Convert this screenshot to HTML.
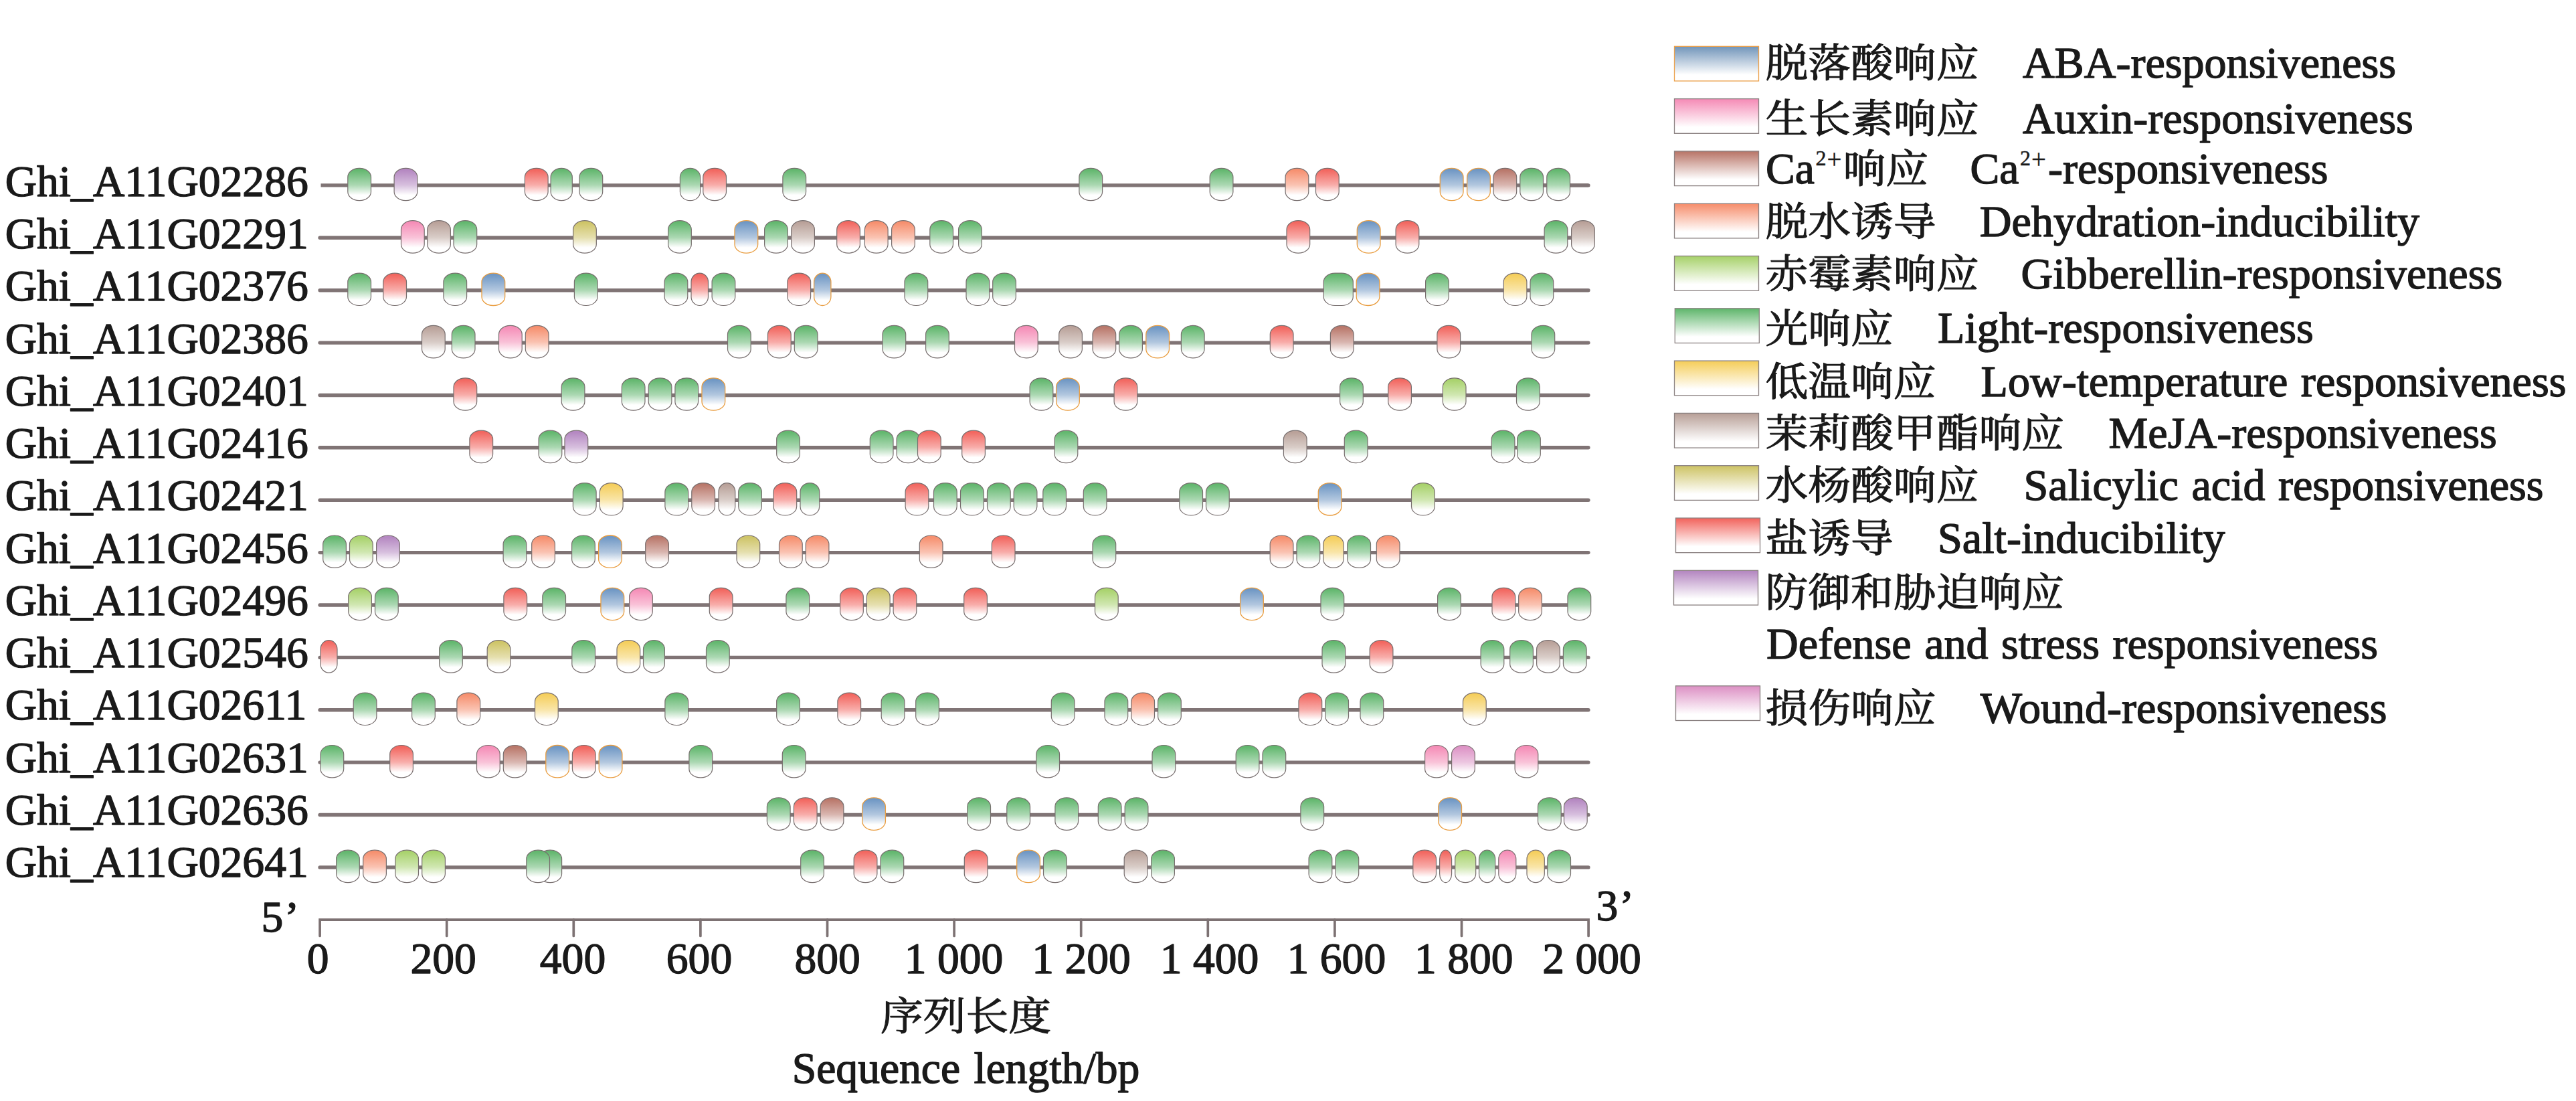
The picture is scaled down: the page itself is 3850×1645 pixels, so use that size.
<!DOCTYPE html>
<html lang="zh"><head><meta charset="utf-8"><title>cis-acting elements</title>
<style>html,body{margin:0;padding:0;background:#fff}body{width:3850px;height:1645px;overflow:hidden}svg{display:block}text{font-family:"Liberation Serif","Noto Serif CJK SC",serif;font-size:65.6px;fill:#1a1a1a;stroke:#1a1a1a;stroke-width:1.4px;stroke-linejoin:round}.e{font-size:66.1px;word-spacing:3px}.c{font-size:63.8px;stroke-width:1.3px}</style></head><body>
<svg width="3850" height="1645" viewBox="0 0 3850 1645">
<defs>
<linearGradient id="gL" x1="0" y1="0" x2="0" y2="1"><stop offset="0.05" stop-color="#62b76e"/><stop offset="0.52" stop-color="#abd8b2"/><stop offset="0.83" stop-color="#fff"/></linearGradient>
<linearGradient id="gA" x1="0" y1="0" x2="0" y2="1"><stop offset="0.05" stop-color="#6f97c4"/><stop offset="0.52" stop-color="#b2c7df"/><stop offset="0.83" stop-color="#fff"/></linearGradient>
<linearGradient id="gX" x1="0" y1="0" x2="0" y2="1"><stop offset="0.05" stop-color="#f58db7"/><stop offset="0.52" stop-color="#f9c2d8"/><stop offset="0.83" stop-color="#fff"/></linearGradient>
<linearGradient id="gC" x1="0" y1="0" x2="0" y2="1"><stop offset="0.05" stop-color="#b9776a"/><stop offset="0.52" stop-color="#d9b6b0"/><stop offset="0.83" stop-color="#fff"/></linearGradient>
<linearGradient id="gD" x1="0" y1="0" x2="0" y2="1"><stop offset="0.05" stop-color="#f68f6e"/><stop offset="0.52" stop-color="#fac3b2"/><stop offset="0.83" stop-color="#fff"/></linearGradient>
<linearGradient id="gG" x1="0" y1="0" x2="0" y2="1"><stop offset="0.05" stop-color="#a8d26c"/><stop offset="0.52" stop-color="#d0e7b1"/><stop offset="0.83" stop-color="#fff"/></linearGradient>
<linearGradient id="gT" x1="0" y1="0" x2="0" y2="1"><stop offset="0.05" stop-color="#f5ce5c"/><stop offset="0.52" stop-color="#f9e5a8"/><stop offset="0.83" stop-color="#fff"/></linearGradient>
<linearGradient id="gM" x1="0" y1="0" x2="0" y2="1"><stop offset="0.05" stop-color="#b9a199"/><stop offset="0.52" stop-color="#d9cdc8"/><stop offset="0.83" stop-color="#fff"/></linearGradient>
<linearGradient id="gS" x1="0" y1="0" x2="0" y2="1"><stop offset="0.05" stop-color="#cec467"/><stop offset="0.52" stop-color="#e5dfae"/><stop offset="0.83" stop-color="#fff"/></linearGradient>
<linearGradient id="gR" x1="0" y1="0" x2="0" y2="1"><stop offset="0.05" stop-color="#f2665f"/><stop offset="0.52" stop-color="#f8adaa"/><stop offset="0.83" stop-color="#fff"/></linearGradient>
<linearGradient id="gP" x1="0" y1="0" x2="0" y2="1"><stop offset="0.05" stop-color="#b487c1"/><stop offset="0.52" stop-color="#d7bfde"/><stop offset="0.83" stop-color="#fff"/></linearGradient>
<linearGradient id="gW" x1="0" y1="0" x2="0" y2="1"><stop offset="0.05" stop-color="#dd92c5"/><stop offset="0.52" stop-color="#ecc5e0"/><stop offset="0.83" stop-color="#fff"/></linearGradient>
<linearGradient id="hL" x1="0" y1="0" x2="0" y2="1"><stop offset="0.02" stop-color="#62b76e"/><stop offset="0.82" stop-color="#fff"/></linearGradient>
<linearGradient id="hA" x1="0" y1="0" x2="0" y2="1"><stop offset="0.02" stop-color="#7497bb"/><stop offset="0.82" stop-color="#fff"/></linearGradient>
<linearGradient id="hX" x1="0" y1="0" x2="0" y2="1"><stop offset="0.02" stop-color="#f58db7"/><stop offset="0.82" stop-color="#fff"/></linearGradient>
<linearGradient id="hC" x1="0" y1="0" x2="0" y2="1"><stop offset="0.02" stop-color="#b9776a"/><stop offset="0.82" stop-color="#fff"/></linearGradient>
<linearGradient id="hD" x1="0" y1="0" x2="0" y2="1"><stop offset="0.02" stop-color="#f68f6e"/><stop offset="0.82" stop-color="#fff"/></linearGradient>
<linearGradient id="hG" x1="0" y1="0" x2="0" y2="1"><stop offset="0.02" stop-color="#a8d26c"/><stop offset="0.82" stop-color="#fff"/></linearGradient>
<linearGradient id="hT" x1="0" y1="0" x2="0" y2="1"><stop offset="0.02" stop-color="#f5ce5c"/><stop offset="0.82" stop-color="#fff"/></linearGradient>
<linearGradient id="hM" x1="0" y1="0" x2="0" y2="1"><stop offset="0.02" stop-color="#b9a199"/><stop offset="0.82" stop-color="#fff"/></linearGradient>
<linearGradient id="hS" x1="0" y1="0" x2="0" y2="1"><stop offset="0.02" stop-color="#cec467"/><stop offset="0.82" stop-color="#fff"/></linearGradient>
<linearGradient id="hR" x1="0" y1="0" x2="0" y2="1"><stop offset="0.02" stop-color="#f2665f"/><stop offset="0.82" stop-color="#fff"/></linearGradient>
<linearGradient id="hP" x1="0" y1="0" x2="0" y2="1"><stop offset="0.02" stop-color="#b487c1"/><stop offset="0.82" stop-color="#fff"/></linearGradient>
<linearGradient id="hW" x1="0" y1="0" x2="0" y2="1"><stop offset="0.02" stop-color="#dd92c5"/><stop offset="0.82" stop-color="#fff"/></linearGradient>
</defs>
<g stroke="#807475" stroke-width="5.4" stroke-linecap="round">
<line x1="479.5" y1="276.9" x2="2373.9" y2="276.9" stroke-linecap="butt"/><line x1="2300" y1="276.9" x2="2373.9" y2="276.9"/>
<line x1="478.1" y1="355.3" x2="2373.9" y2="355.3"/>
<line x1="478.1" y1="433.7" x2="2373.9" y2="433.7"/>
<line x1="478.1" y1="512.1" x2="2373.9" y2="512.1"/>
<line x1="478.1" y1="590.5" x2="2373.9" y2="590.5"/>
<line x1="478.1" y1="668.8" x2="2373.9" y2="668.8"/>
<line x1="478.1" y1="747.2" x2="2373.9" y2="747.2"/>
<line x1="478.1" y1="825.6" x2="2373.9" y2="825.6"/>
<line x1="478.1" y1="904.0" x2="2373.9" y2="904.0"/>
<line x1="478.1" y1="982.4" x2="2373.9" y2="982.4"/>
<line x1="478.1" y1="1060.8" x2="2373.9" y2="1060.8"/>
<line x1="478.1" y1="1139.1" x2="2373.9" y2="1139.1"/>
<line x1="478.1" y1="1217.5" x2="2373.9" y2="1217.5"/>
<line x1="478.1" y1="1295.9" x2="2373.9" y2="1295.9"/>
</g>
<g stroke="#776e6e" stroke-width="1.2">
<rect x="519.8" y="251.3" width="34.7" height="48.4" rx="17.0" ry="13.2" fill="url(#gL)"/>
<rect x="589.1" y="251.3" width="34.7" height="48.4" rx="17.0" ry="13.2" fill="url(#gP)"/>
<rect x="784.4" y="251.3" width="34.7" height="48.4" rx="17.0" ry="13.2" fill="url(#gR)"/>
<rect x="823.1" y="251.3" width="32.2" height="48.4" rx="16.1" ry="13.2" fill="url(#gL)"/>
<rect x="866.0" y="251.3" width="34.7" height="48.4" rx="17.0" ry="13.2" fill="url(#gL)"/>
<rect x="1016.4" y="251.3" width="30.2" height="48.4" rx="15.1" ry="13.2" fill="url(#gL)"/>
<rect x="1050.8" y="251.3" width="34.7" height="48.4" rx="17.0" ry="13.2" fill="url(#gR)"/>
<rect x="1169.9" y="251.3" width="34.7" height="48.4" rx="17.0" ry="13.2" fill="url(#gL)"/>
<rect x="1612.9" y="251.3" width="34.7" height="48.4" rx="17.0" ry="13.2" fill="url(#gL)"/>
<rect x="1808.2" y="251.3" width="34.7" height="48.4" rx="17.0" ry="13.2" fill="url(#gL)"/>
<rect x="1921.1" y="251.3" width="34.7" height="48.4" rx="17.0" ry="13.2" fill="url(#gD)"/>
<rect x="1966.5" y="251.3" width="34.7" height="48.4" rx="17.0" ry="13.2" fill="url(#gR)"/>
<rect x="2152.3" y="251.3" width="34.7" height="48.4" rx="17.0" ry="13.2" fill="url(#gA)" stroke="#e99d40" stroke-width="1.3"/>
<rect x="2192.6" y="251.3" width="34.7" height="48.4" rx="17.0" ry="13.2" fill="url(#gA)" stroke="#e99d40" stroke-width="1.3"/>
<rect x="2232.0" y="251.3" width="34.7" height="48.4" rx="17.0" ry="13.2" fill="url(#gC)"/>
<rect x="2271.8" y="251.3" width="34.7" height="48.4" rx="17.0" ry="13.2" fill="url(#gL)"/>
<rect x="2311.8" y="251.3" width="34.7" height="48.4" rx="17.0" ry="13.2" fill="url(#gL)"/>
<rect x="599.5" y="329.7" width="34.7" height="48.4" rx="17.0" ry="13.2" fill="url(#gX)"/>
<rect x="638.7" y="329.7" width="34.7" height="48.4" rx="17.0" ry="13.2" fill="url(#gM)"/>
<rect x="678.0" y="329.7" width="34.7" height="48.4" rx="17.0" ry="13.2" fill="url(#gL)"/>
<rect x="856.6" y="329.7" width="34.7" height="48.4" rx="17.0" ry="13.2" fill="url(#gS)"/>
<rect x="998.6" y="329.7" width="34.7" height="48.4" rx="17.0" ry="13.2" fill="url(#gL)"/>
<rect x="1098.0" y="329.7" width="34.7" height="48.4" rx="17.0" ry="13.2" fill="url(#gA)" stroke="#e99d40" stroke-width="1.3"/>
<rect x="1142.6" y="329.7" width="34.7" height="48.4" rx="17.0" ry="13.2" fill="url(#gL)"/>
<rect x="1182.7" y="329.7" width="34.7" height="48.4" rx="17.0" ry="13.2" fill="url(#gM)"/>
<rect x="1250.7" y="329.7" width="34.7" height="48.4" rx="17.0" ry="13.2" fill="url(#gR)"/>
<rect x="1292.4" y="329.7" width="34.7" height="48.4" rx="17.0" ry="13.2" fill="url(#gD)"/>
<rect x="1332.6" y="329.7" width="34.7" height="48.4" rx="17.0" ry="13.2" fill="url(#gD)"/>
<rect x="1389.8" y="329.7" width="34.7" height="48.4" rx="17.0" ry="13.2" fill="url(#gL)"/>
<rect x="1432.6" y="329.7" width="34.7" height="48.4" rx="17.0" ry="13.2" fill="url(#gL)"/>
<rect x="1923.0" y="329.7" width="34.7" height="48.4" rx="17.0" ry="13.2" fill="url(#gR)"/>
<rect x="2028.3" y="329.7" width="34.7" height="48.4" rx="17.0" ry="13.2" fill="url(#gA)" stroke="#e99d40" stroke-width="1.3"/>
<rect x="2086.1" y="329.7" width="34.7" height="48.4" rx="17.0" ry="13.2" fill="url(#gR)"/>
<rect x="2308.1" y="329.7" width="34.7" height="48.4" rx="17.0" ry="13.2" fill="url(#gL)"/>
<rect x="2348.6" y="329.7" width="34.7" height="48.4" rx="17.0" ry="13.2" fill="url(#gM)"/>
<rect x="519.8" y="408.1" width="34.7" height="48.4" rx="17.0" ry="13.2" fill="url(#gL)"/>
<rect x="572.8" y="408.1" width="34.7" height="48.4" rx="17.0" ry="13.2" fill="url(#gR)"/>
<rect x="662.9" y="408.1" width="34.7" height="48.4" rx="17.0" ry="13.2" fill="url(#gL)"/>
<rect x="720.0" y="408.1" width="34.7" height="48.4" rx="17.0" ry="13.2" fill="url(#gA)" stroke="#e99d40" stroke-width="1.3"/>
<rect x="858.4" y="408.1" width="34.7" height="48.4" rx="17.0" ry="13.2" fill="url(#gL)"/>
<rect x="993.1" y="408.1" width="34.7" height="48.4" rx="17.0" ry="13.2" fill="url(#gL)"/>
<rect x="1033.0" y="408.1" width="25.5" height="48.4" rx="12.7" ry="13.2" fill="url(#gR)"/>
<rect x="1064.1" y="408.1" width="34.7" height="48.4" rx="17.0" ry="13.2" fill="url(#gL)"/>
<rect x="1176.9" y="408.1" width="34.7" height="48.4" rx="17.0" ry="13.2" fill="url(#gR)"/>
<rect x="1216.6" y="408.1" width="25.3" height="48.4" rx="12.7" ry="13.2" fill="url(#gA)" stroke="#e99d40" stroke-width="1.3"/>
<rect x="1352.0" y="408.1" width="34.7" height="48.4" rx="17.0" ry="13.2" fill="url(#gL)"/>
<rect x="1444.0" y="408.1" width="34.7" height="48.4" rx="17.0" ry="13.2" fill="url(#gL)"/>
<rect x="1483.7" y="408.1" width="34.7" height="48.4" rx="17.0" ry="13.2" fill="url(#gL)"/>
<rect x="1978.2" y="408.1" width="44.1" height="48.4" rx="17.0" ry="13.2" fill="url(#gL)"/>
<rect x="2027.2" y="408.1" width="34.7" height="48.4" rx="17.0" ry="13.2" fill="url(#gA)" stroke="#e99d40" stroke-width="1.3"/>
<rect x="2130.6" y="408.1" width="34.7" height="48.4" rx="17.0" ry="13.2" fill="url(#gL)"/>
<rect x="2247.2" y="408.1" width="34.7" height="48.4" rx="17.0" ry="13.2" fill="url(#gT)"/>
<rect x="2287.0" y="408.1" width="34.7" height="48.4" rx="17.0" ry="13.2" fill="url(#gL)"/>
<rect x="630.5" y="486.4" width="34.7" height="48.4" rx="17.0" ry="13.2" fill="url(#gM)"/>
<rect x="675.3" y="486.4" width="34.7" height="48.4" rx="17.0" ry="13.2" fill="url(#gL)"/>
<rect x="745.5" y="486.4" width="34.7" height="48.4" rx="17.0" ry="13.2" fill="url(#gX)"/>
<rect x="785.3" y="486.4" width="34.7" height="48.4" rx="17.0" ry="13.2" fill="url(#gD)"/>
<rect x="1087.5" y="486.4" width="34.7" height="48.4" rx="17.0" ry="13.2" fill="url(#gL)"/>
<rect x="1147.5" y="486.4" width="34.7" height="48.4" rx="17.0" ry="13.2" fill="url(#gR)"/>
<rect x="1187.3" y="486.4" width="34.7" height="48.4" rx="17.0" ry="13.2" fill="url(#gL)"/>
<rect x="1319.0" y="486.4" width="34.7" height="48.4" rx="17.0" ry="13.2" fill="url(#gL)"/>
<rect x="1383.6" y="486.4" width="34.7" height="48.4" rx="17.0" ry="13.2" fill="url(#gL)"/>
<rect x="1516.5" y="486.4" width="34.7" height="48.4" rx="17.0" ry="13.2" fill="url(#gX)"/>
<rect x="1582.7" y="486.4" width="34.7" height="48.4" rx="17.0" ry="13.2" fill="url(#gM)"/>
<rect x="1633.0" y="486.4" width="34.7" height="48.4" rx="17.0" ry="13.2" fill="url(#gC)"/>
<rect x="1672.7" y="486.4" width="34.7" height="48.4" rx="17.0" ry="13.2" fill="url(#gL)"/>
<rect x="1712.8" y="486.4" width="34.7" height="48.4" rx="17.0" ry="13.2" fill="url(#gA)" stroke="#e99d40" stroke-width="1.3"/>
<rect x="1765.4" y="486.4" width="34.7" height="48.4" rx="17.0" ry="13.2" fill="url(#gL)"/>
<rect x="1898.3" y="486.4" width="34.7" height="48.4" rx="17.0" ry="13.2" fill="url(#gR)"/>
<rect x="1988.4" y="486.4" width="34.7" height="48.4" rx="17.0" ry="13.2" fill="url(#gC)"/>
<rect x="2147.9" y="486.4" width="34.7" height="48.4" rx="17.0" ry="13.2" fill="url(#gR)"/>
<rect x="2289.0" y="486.4" width="34.7" height="48.4" rx="17.0" ry="13.2" fill="url(#gL)"/>
<rect x="678.0" y="564.8" width="34.7" height="48.4" rx="17.0" ry="13.2" fill="url(#gR)"/>
<rect x="839.2" y="564.8" width="34.7" height="48.4" rx="17.0" ry="13.2" fill="url(#gL)"/>
<rect x="929.3" y="564.8" width="34.7" height="48.4" rx="17.0" ry="13.2" fill="url(#gL)"/>
<rect x="969.2" y="564.8" width="34.7" height="48.4" rx="17.0" ry="13.2" fill="url(#gL)"/>
<rect x="1008.9" y="564.8" width="34.7" height="48.4" rx="17.0" ry="13.2" fill="url(#gL)"/>
<rect x="1049.0" y="564.8" width="34.7" height="48.4" rx="17.0" ry="13.2" fill="url(#gA)" stroke="#e99d40" stroke-width="1.3"/>
<rect x="1539.1" y="564.8" width="34.7" height="48.4" rx="17.0" ry="13.2" fill="url(#gL)"/>
<rect x="1578.6" y="564.8" width="34.7" height="48.4" rx="17.0" ry="13.2" fill="url(#gA)" stroke="#e99d40" stroke-width="1.3"/>
<rect x="1665.1" y="564.8" width="34.7" height="48.4" rx="17.0" ry="13.2" fill="url(#gR)"/>
<rect x="2002.6" y="564.8" width="34.7" height="48.4" rx="17.0" ry="13.2" fill="url(#gL)"/>
<rect x="2074.7" y="564.8" width="34.7" height="48.4" rx="17.0" ry="13.2" fill="url(#gR)"/>
<rect x="2156.3" y="564.8" width="34.7" height="48.4" rx="17.0" ry="13.2" fill="url(#gG)"/>
<rect x="2266.5" y="564.8" width="34.7" height="48.4" rx="17.0" ry="13.2" fill="url(#gL)"/>
<rect x="701.9" y="643.2" width="34.7" height="48.4" rx="17.0" ry="13.2" fill="url(#gR)"/>
<rect x="805.1" y="643.2" width="34.7" height="48.4" rx="17.0" ry="13.2" fill="url(#gL)"/>
<rect x="844.0" y="643.2" width="34.7" height="48.4" rx="17.0" ry="13.2" fill="url(#gP)"/>
<rect x="1160.7" y="643.2" width="34.7" height="48.4" rx="17.0" ry="13.2" fill="url(#gL)"/>
<rect x="1300.3" y="643.2" width="34.7" height="48.4" rx="17.0" ry="13.2" fill="url(#gL)"/>
<rect x="1340.1" y="643.2" width="34.7" height="48.4" rx="17.0" ry="13.2" fill="url(#gL)"/>
<rect x="1371.5" y="643.2" width="34.7" height="48.4" rx="17.0" ry="13.2" fill="url(#gR)"/>
<rect x="1437.7" y="643.2" width="34.7" height="48.4" rx="17.0" ry="13.2" fill="url(#gR)"/>
<rect x="1576.1" y="643.2" width="34.7" height="48.4" rx="17.0" ry="13.2" fill="url(#gL)"/>
<rect x="1918.4" y="643.2" width="34.7" height="48.4" rx="17.0" ry="13.2" fill="url(#gM)"/>
<rect x="2009.3" y="643.2" width="34.7" height="48.4" rx="17.0" ry="13.2" fill="url(#gL)"/>
<rect x="2229.2" y="643.2" width="34.7" height="48.4" rx="17.0" ry="13.2" fill="url(#gL)"/>
<rect x="2267.6" y="643.2" width="34.7" height="48.4" rx="17.0" ry="13.2" fill="url(#gL)"/>
<rect x="856.4" y="721.6" width="34.7" height="48.4" rx="17.0" ry="13.2" fill="url(#gL)"/>
<rect x="896.4" y="721.6" width="34.7" height="48.4" rx="17.0" ry="13.2" fill="url(#gT)"/>
<rect x="993.9" y="721.6" width="34.7" height="48.4" rx="17.0" ry="13.2" fill="url(#gL)"/>
<rect x="1033.8" y="721.6" width="34.7" height="48.4" rx="17.0" ry="13.2" fill="url(#gC)"/>
<rect x="1074.0" y="721.6" width="24.8" height="48.4" rx="12.4" ry="13.2" fill="url(#gM)"/>
<rect x="1103.7" y="721.6" width="34.7" height="48.4" rx="17.0" ry="13.2" fill="url(#gL)"/>
<rect x="1156.0" y="721.6" width="34.7" height="48.4" rx="17.0" ry="13.2" fill="url(#gR)"/>
<rect x="1196.0" y="721.6" width="28.7" height="48.4" rx="14.3" ry="13.2" fill="url(#gL)"/>
<rect x="1353.1" y="721.6" width="34.7" height="48.4" rx="17.0" ry="13.2" fill="url(#gR)"/>
<rect x="1395.5" y="721.6" width="34.7" height="48.4" rx="17.0" ry="13.2" fill="url(#gL)"/>
<rect x="1435.5" y="721.6" width="34.7" height="48.4" rx="17.0" ry="13.2" fill="url(#gL)"/>
<rect x="1475.5" y="721.6" width="34.7" height="48.4" rx="17.0" ry="13.2" fill="url(#gL)"/>
<rect x="1515.2" y="721.6" width="34.7" height="48.4" rx="17.0" ry="13.2" fill="url(#gL)"/>
<rect x="1558.8" y="721.6" width="34.7" height="48.4" rx="17.0" ry="13.2" fill="url(#gL)"/>
<rect x="1619.3" y="721.6" width="34.7" height="48.4" rx="17.0" ry="13.2" fill="url(#gL)"/>
<rect x="1762.8" y="721.6" width="34.7" height="48.4" rx="17.0" ry="13.2" fill="url(#gL)"/>
<rect x="1802.5" y="721.6" width="34.7" height="48.4" rx="17.0" ry="13.2" fill="url(#gL)"/>
<rect x="1970.3" y="721.6" width="34.7" height="48.4" rx="17.0" ry="13.2" fill="url(#gA)" stroke="#e99d40" stroke-width="1.3"/>
<rect x="2109.5" y="721.6" width="34.7" height="48.4" rx="17.0" ry="13.2" fill="url(#gG)"/>
<rect x="482.7" y="800.0" width="34.7" height="48.4" rx="17.0" ry="13.2" fill="url(#gL)"/>
<rect x="522.5" y="800.0" width="34.7" height="48.4" rx="17.0" ry="13.2" fill="url(#gG)"/>
<rect x="562.6" y="800.0" width="34.7" height="48.4" rx="17.0" ry="13.2" fill="url(#gP)"/>
<rect x="752.1" y="800.0" width="34.7" height="48.4" rx="17.0" ry="13.2" fill="url(#gL)"/>
<rect x="794.7" y="800.0" width="34.7" height="48.4" rx="17.0" ry="13.2" fill="url(#gD)"/>
<rect x="854.6" y="800.0" width="34.7" height="48.4" rx="17.0" ry="13.2" fill="url(#gL)"/>
<rect x="894.6" y="800.0" width="34.7" height="48.4" rx="17.0" ry="13.2" fill="url(#gA)" stroke="#e99d40" stroke-width="1.3"/>
<rect x="964.7" y="800.0" width="34.7" height="48.4" rx="17.0" ry="13.2" fill="url(#gC)"/>
<rect x="1101.0" y="800.0" width="34.7" height="48.4" rx="17.0" ry="13.2" fill="url(#gS)"/>
<rect x="1164.5" y="800.0" width="34.7" height="48.4" rx="17.0" ry="13.2" fill="url(#gD)"/>
<rect x="1204.2" y="800.0" width="34.7" height="48.4" rx="17.0" ry="13.2" fill="url(#gD)"/>
<rect x="1374.3" y="800.0" width="34.7" height="48.4" rx="17.0" ry="13.2" fill="url(#gD)"/>
<rect x="1482.3" y="800.0" width="34.7" height="48.4" rx="17.0" ry="13.2" fill="url(#gR)"/>
<rect x="1633.0" y="800.0" width="34.7" height="48.4" rx="17.0" ry="13.2" fill="url(#gL)"/>
<rect x="1898.2" y="800.0" width="34.7" height="48.4" rx="17.0" ry="13.2" fill="url(#gD)"/>
<rect x="1938.0" y="800.0" width="34.7" height="48.4" rx="17.0" ry="13.2" fill="url(#gL)"/>
<rect x="1977.7" y="800.0" width="30.4" height="48.4" rx="15.2" ry="13.2" fill="url(#gT)"/>
<rect x="2013.8" y="800.0" width="34.7" height="48.4" rx="17.0" ry="13.2" fill="url(#gL)"/>
<rect x="2057.3" y="800.0" width="34.7" height="48.4" rx="17.0" ry="13.2" fill="url(#gD)"/>
<rect x="520.7" y="878.3" width="34.7" height="48.4" rx="17.0" ry="13.2" fill="url(#gG)"/>
<rect x="560.5" y="878.3" width="34.7" height="48.4" rx="17.0" ry="13.2" fill="url(#gL)"/>
<rect x="752.9" y="878.3" width="34.7" height="48.4" rx="17.0" ry="13.2" fill="url(#gR)"/>
<rect x="810.8" y="878.3" width="34.7" height="48.4" rx="17.0" ry="13.2" fill="url(#gL)"/>
<rect x="898.0" y="878.3" width="34.7" height="48.4" rx="17.0" ry="13.2" fill="url(#gA)" stroke="#e99d40" stroke-width="1.3"/>
<rect x="940.6" y="878.3" width="34.7" height="48.4" rx="17.0" ry="13.2" fill="url(#gX)"/>
<rect x="1060.3" y="878.3" width="34.7" height="48.4" rx="17.0" ry="13.2" fill="url(#gR)"/>
<rect x="1174.9" y="878.3" width="34.7" height="48.4" rx="17.0" ry="13.2" fill="url(#gL)"/>
<rect x="1255.6" y="878.3" width="34.7" height="48.4" rx="17.0" ry="13.2" fill="url(#gR)"/>
<rect x="1295.4" y="878.3" width="34.7" height="48.4" rx="17.0" ry="13.2" fill="url(#gS)"/>
<rect x="1335.1" y="878.3" width="34.7" height="48.4" rx="17.0" ry="13.2" fill="url(#gR)"/>
<rect x="1440.7" y="878.3" width="34.7" height="48.4" rx="17.0" ry="13.2" fill="url(#gR)"/>
<rect x="1636.5" y="878.3" width="34.7" height="48.4" rx="17.0" ry="13.2" fill="url(#gG)"/>
<rect x="1853.6" y="878.3" width="34.7" height="48.4" rx="17.0" ry="13.2" fill="url(#gA)" stroke="#e99d40" stroke-width="1.3"/>
<rect x="1974.0" y="878.3" width="34.7" height="48.4" rx="17.0" ry="13.2" fill="url(#gL)"/>
<rect x="2148.6" y="878.3" width="34.7" height="48.4" rx="17.0" ry="13.2" fill="url(#gL)"/>
<rect x="2230.0" y="878.3" width="34.7" height="48.4" rx="17.0" ry="13.2" fill="url(#gR)"/>
<rect x="2269.7" y="878.3" width="34.7" height="48.4" rx="17.0" ry="13.2" fill="url(#gD)"/>
<rect x="2343.0" y="878.3" width="34.7" height="48.4" rx="17.0" ry="13.2" fill="url(#gL)"/>
<rect x="479.0" y="956.7" width="25.0" height="48.4" rx="12.5" ry="13.2" fill="url(#gR)"/>
<rect x="656.6" y="956.7" width="34.7" height="48.4" rx="17.0" ry="13.2" fill="url(#gL)"/>
<rect x="728.2" y="956.7" width="34.7" height="48.4" rx="17.0" ry="13.2" fill="url(#gS)"/>
<rect x="854.8" y="956.7" width="34.7" height="48.4" rx="17.0" ry="13.2" fill="url(#gL)"/>
<rect x="922.0" y="956.7" width="34.7" height="48.4" rx="17.0" ry="13.2" fill="url(#gT)"/>
<rect x="961.5" y="956.7" width="31.9" height="48.4" rx="16.0" ry="13.2" fill="url(#gL)"/>
<rect x="1055.5" y="956.7" width="34.7" height="48.4" rx="17.0" ry="13.2" fill="url(#gL)"/>
<rect x="1976.0" y="956.7" width="34.7" height="48.4" rx="17.0" ry="13.2" fill="url(#gL)"/>
<rect x="2047.2" y="956.7" width="34.7" height="48.4" rx="17.0" ry="13.2" fill="url(#gR)"/>
<rect x="2213.1" y="956.7" width="34.7" height="48.4" rx="17.0" ry="13.2" fill="url(#gL)"/>
<rect x="2256.7" y="956.7" width="34.7" height="48.4" rx="17.0" ry="13.2" fill="url(#gL)"/>
<rect x="2296.6" y="956.7" width="34.7" height="48.4" rx="17.0" ry="13.2" fill="url(#gM)"/>
<rect x="2336.4" y="956.7" width="34.7" height="48.4" rx="17.0" ry="13.2" fill="url(#gL)"/>
<rect x="528.2" y="1035.1" width="34.7" height="48.4" rx="17.0" ry="13.2" fill="url(#gL)"/>
<rect x="615.6" y="1035.1" width="34.7" height="48.4" rx="17.0" ry="13.2" fill="url(#gL)"/>
<rect x="682.9" y="1035.1" width="34.7" height="48.4" rx="17.0" ry="13.2" fill="url(#gD)"/>
<rect x="799.5" y="1035.1" width="34.7" height="48.4" rx="17.0" ry="13.2" fill="url(#gT)"/>
<rect x="993.9" y="1035.1" width="34.7" height="48.4" rx="17.0" ry="13.2" fill="url(#gL)"/>
<rect x="1160.7" y="1035.1" width="34.7" height="48.4" rx="17.0" ry="13.2" fill="url(#gL)"/>
<rect x="1251.9" y="1035.1" width="34.7" height="48.4" rx="17.0" ry="13.2" fill="url(#gR)"/>
<rect x="1317.2" y="1035.1" width="34.7" height="48.4" rx="17.0" ry="13.2" fill="url(#gL)"/>
<rect x="1368.7" y="1035.1" width="34.7" height="48.4" rx="17.0" ry="13.2" fill="url(#gL)"/>
<rect x="1571.3" y="1035.1" width="34.7" height="48.4" rx="17.0" ry="13.2" fill="url(#gL)"/>
<rect x="1651.0" y="1035.1" width="34.7" height="48.4" rx="17.0" ry="13.2" fill="url(#gL)"/>
<rect x="1690.8" y="1035.1" width="34.7" height="48.4" rx="17.0" ry="13.2" fill="url(#gD)"/>
<rect x="1730.6" y="1035.1" width="34.7" height="48.4" rx="17.0" ry="13.2" fill="url(#gL)"/>
<rect x="1941.0" y="1035.1" width="34.7" height="48.4" rx="17.0" ry="13.2" fill="url(#gR)"/>
<rect x="1980.8" y="1035.1" width="34.7" height="48.4" rx="17.0" ry="13.2" fill="url(#gL)"/>
<rect x="2033.0" y="1035.1" width="34.7" height="48.4" rx="17.0" ry="13.2" fill="url(#gL)"/>
<rect x="2186.5" y="1035.1" width="34.7" height="48.4" rx="17.0" ry="13.2" fill="url(#gT)"/>
<rect x="479.0" y="1113.5" width="34.7" height="48.4" rx="17.0" ry="13.2" fill="url(#gL)"/>
<rect x="582.7" y="1113.5" width="34.7" height="48.4" rx="17.0" ry="13.2" fill="url(#gR)"/>
<rect x="712.5" y="1113.5" width="34.7" height="48.4" rx="17.0" ry="13.2" fill="url(#gX)"/>
<rect x="752.3" y="1113.5" width="34.7" height="48.4" rx="17.0" ry="13.2" fill="url(#gC)"/>
<rect x="815.8" y="1113.5" width="34.7" height="48.4" rx="17.0" ry="13.2" fill="url(#gA)" stroke="#e99d40" stroke-width="1.3"/>
<rect x="855.4" y="1113.5" width="34.7" height="48.4" rx="17.0" ry="13.2" fill="url(#gR)"/>
<rect x="895.2" y="1113.5" width="34.7" height="48.4" rx="17.0" ry="13.2" fill="url(#gA)" stroke="#e99d40" stroke-width="1.3"/>
<rect x="1029.9" y="1113.5" width="34.7" height="48.4" rx="17.0" ry="13.2" fill="url(#gL)"/>
<rect x="1169.3" y="1113.5" width="34.7" height="48.4" rx="17.0" ry="13.2" fill="url(#gL)"/>
<rect x="1548.8" y="1113.5" width="34.7" height="48.4" rx="17.0" ry="13.2" fill="url(#gL)"/>
<rect x="1722.0" y="1113.5" width="34.7" height="48.4" rx="17.0" ry="13.2" fill="url(#gL)"/>
<rect x="1847.2" y="1113.5" width="34.7" height="48.4" rx="17.0" ry="13.2" fill="url(#gL)"/>
<rect x="1887.0" y="1113.5" width="34.7" height="48.4" rx="17.0" ry="13.2" fill="url(#gL)"/>
<rect x="2129.6" y="1113.5" width="34.7" height="48.4" rx="17.0" ry="13.2" fill="url(#gX)"/>
<rect x="2169.6" y="1113.5" width="34.7" height="48.4" rx="17.0" ry="13.2" fill="url(#gW)"/>
<rect x="2264.1" y="1113.5" width="34.7" height="48.4" rx="17.0" ry="13.2" fill="url(#gX)"/>
<rect x="1146.4" y="1191.9" width="34.7" height="48.4" rx="17.0" ry="13.2" fill="url(#gL)"/>
<rect x="1186.4" y="1191.9" width="34.7" height="48.4" rx="17.0" ry="13.2" fill="url(#gR)"/>
<rect x="1226.2" y="1191.9" width="34.7" height="48.4" rx="17.0" ry="13.2" fill="url(#gC)"/>
<rect x="1288.7" y="1191.9" width="34.7" height="48.4" rx="17.0" ry="13.2" fill="url(#gA)" stroke="#e99d40" stroke-width="1.3"/>
<rect x="1445.8" y="1191.9" width="34.7" height="48.4" rx="17.0" ry="13.2" fill="url(#gL)"/>
<rect x="1504.8" y="1191.9" width="34.7" height="48.4" rx="17.0" ry="13.2" fill="url(#gL)"/>
<rect x="1576.9" y="1191.9" width="34.7" height="48.4" rx="17.0" ry="13.2" fill="url(#gL)"/>
<rect x="1641.3" y="1191.9" width="34.7" height="48.4" rx="17.0" ry="13.2" fill="url(#gL)"/>
<rect x="1681.2" y="1191.9" width="34.7" height="48.4" rx="17.0" ry="13.2" fill="url(#gL)"/>
<rect x="1943.9" y="1191.9" width="34.7" height="48.4" rx="17.0" ry="13.2" fill="url(#gL)"/>
<rect x="2149.8" y="1191.9" width="34.7" height="48.4" rx="17.0" ry="13.2" fill="url(#gA)" stroke="#e99d40" stroke-width="1.3"/>
<rect x="2298.5" y="1191.9" width="34.7" height="48.4" rx="17.0" ry="13.2" fill="url(#gL)"/>
<rect x="2337.5" y="1191.9" width="34.7" height="48.4" rx="17.0" ry="13.2" fill="url(#gP)"/>
<rect x="502.6" y="1270.2" width="34.7" height="48.4" rx="17.0" ry="13.2" fill="url(#gL)"/>
<rect x="542.7" y="1270.2" width="34.7" height="48.4" rx="17.0" ry="13.2" fill="url(#gD)"/>
<rect x="590.8" y="1270.2" width="34.7" height="48.4" rx="17.0" ry="13.2" fill="url(#gG)"/>
<rect x="630.7" y="1270.2" width="34.7" height="48.4" rx="17.0" ry="13.2" fill="url(#gG)"/>
<rect x="804.9" y="1270.2" width="34.7" height="48.4" rx="17.0" ry="13.2" fill="url(#gL)"/>
<rect x="786.8" y="1270.2" width="34.7" height="48.4" rx="17.0" ry="13.2" fill="url(#gL)"/>
<rect x="1196.7" y="1270.2" width="34.7" height="48.4" rx="17.0" ry="13.2" fill="url(#gL)"/>
<rect x="1276.2" y="1270.2" width="34.7" height="48.4" rx="17.0" ry="13.2" fill="url(#gR)"/>
<rect x="1316.0" y="1270.2" width="34.7" height="48.4" rx="17.0" ry="13.2" fill="url(#gL)"/>
<rect x="1441.3" y="1270.2" width="34.7" height="48.4" rx="17.0" ry="13.2" fill="url(#gR)"/>
<rect x="1519.7" y="1270.2" width="34.7" height="48.4" rx="17.0" ry="13.2" fill="url(#gA)" stroke="#e99d40" stroke-width="1.3"/>
<rect x="1559.5" y="1270.2" width="34.7" height="48.4" rx="17.0" ry="13.2" fill="url(#gL)"/>
<rect x="1680.2" y="1270.2" width="34.7" height="48.4" rx="17.0" ry="13.2" fill="url(#gM)"/>
<rect x="1720.7" y="1270.2" width="34.7" height="48.4" rx="17.0" ry="13.2" fill="url(#gL)"/>
<rect x="1956.1" y="1270.2" width="34.7" height="48.4" rx="17.0" ry="13.2" fill="url(#gL)"/>
<rect x="1996.0" y="1270.2" width="34.7" height="48.4" rx="17.0" ry="13.2" fill="url(#gL)"/>
<rect x="2111.8" y="1270.2" width="34.7" height="48.4" rx="17.0" ry="13.2" fill="url(#gR)"/>
<rect x="2151.6" y="1270.2" width="18.0" height="48.4" rx="9.0" ry="13.2" fill="url(#gR)"/>
<rect x="2174.7" y="1270.2" width="31.0" height="48.4" rx="15.5" ry="13.2" fill="url(#gG)"/>
<rect x="2210.5" y="1270.2" width="24.2" height="48.4" rx="12.1" ry="13.2" fill="url(#gL)"/>
<rect x="2239.8" y="1270.2" width="26.0" height="48.4" rx="13.0" ry="13.2" fill="url(#gX)"/>
<rect x="2282.0" y="1270.2" width="26.3" height="48.4" rx="13.2" ry="13.2" fill="url(#gT)"/>
<rect x="2312.8" y="1270.2" width="34.7" height="48.4" rx="17.0" ry="13.2" fill="url(#gL)"/>
</g>
<text x="7.7" y="292.7" font-size="65.9">Ghi_A11G02286</text>
<text x="7.7" y="371.0" font-size="65.9">Ghi_A11G02291</text>
<text x="7.7" y="449.2" font-size="65.9">Ghi_A11G02376</text>
<text x="7.7" y="527.5" font-size="65.9">Ghi_A11G02386</text>
<text x="7.7" y="605.7" font-size="65.9">Ghi_A11G02401</text>
<text x="7.7" y="684.0" font-size="65.9">Ghi_A11G02416</text>
<text x="7.7" y="762.3" font-size="65.9">Ghi_A11G02421</text>
<text x="7.7" y="840.5" font-size="65.9">Ghi_A11G02456</text>
<text x="7.7" y="918.8" font-size="65.9">Ghi_A11G02496</text>
<text x="7.7" y="997.0" font-size="65.9">Ghi_A11G02546</text>
<text x="7.7" y="1075.3" font-size="65.9">Ghi_A11G02611</text>
<text x="7.7" y="1153.6" font-size="65.9">Ghi_A11G02631</text>
<text x="7.7" y="1231.8" font-size="65.9">Ghi_A11G02636</text>
<text x="7.7" y="1310.1" font-size="65.9">Ghi_A11G02641</text>
<g stroke="#7d7273" stroke-width="3.7" fill="none" stroke-linecap="round">
<path d="M478.1 1398.5V1374.1H2374.1V1398.5"/>
<line x1="667.7" y1="1374.1" x2="667.7" y2="1398.5"/>
<line x1="857.3" y1="1374.1" x2="857.3" y2="1398.5"/>
<line x1="1046.9" y1="1374.1" x2="1046.9" y2="1398.5"/>
<line x1="1236.5" y1="1374.1" x2="1236.5" y2="1398.5"/>
<line x1="1426.1" y1="1374.1" x2="1426.1" y2="1398.5"/>
<line x1="1615.7" y1="1374.1" x2="1615.7" y2="1398.5"/>
<line x1="1805.3" y1="1374.1" x2="1805.3" y2="1398.5"/>
<line x1="1994.9" y1="1374.1" x2="1994.9" y2="1398.5"/>
<line x1="2184.5" y1="1374.1" x2="2184.5" y2="1398.5"/>
</g>
<text x="458.8" y="1454" id="tk0">0</text>
<text x="613.4" y="1454" id="tk1">200</text>
<text x="806.8" y="1454" id="tk2">400</text>
<text x="995.8" y="1454" id="tk3">600</text>
<text x="1187.4" y="1454" id="tk4">800</text>
<text x="1351.8" y="1454" id="tk5">1 000</text>
<text x="1542.2" y="1454" id="tk6">1 200</text>
<text x="1733.8" y="1454" id="tk7">1 400</text>
<text x="1923.6" y="1454" id="tk8">1 600</text>
<text x="2114.0" y="1454" id="tk9">1 800</text>
<text x="2305.2" y="1454" id="tk10">2 000</text>
<text x="390.5" y="1392">5<tspan dx="2">’</tspan></text>
<text x="2385.5" y="1374.5">3<tspan dx="2">’</tspan></text>
<text class="c" transform="translate(1443.5 1539.3) scale(1 0.925)" text-anchor="middle">序列长度</text>
<text x="1443.5" y="1618" text-anchor="middle" font-size="66.6" word-spacing="4">Sequence length/bp</text>
<rect x="2502.5" y="69.3" width="126" height="51.7" fill="url(#hA)" stroke="#eca04a" stroke-width="1.3"/>
<text class="c" transform="translate(2638.5 115.2) scale(1 0.925)">脱落酸响应</text>
<text x="3022.9" y="115.9" class="e">ABA-responsiveness</text>
<rect x="2502.5" y="147.6" width="126" height="51.7" fill="url(#hX)" stroke="#8a8181" stroke-width="1.3"/>
<text class="c" transform="translate(2638.5 198.4) scale(1 0.925)">生长素响应</text>
<text x="3022.9" y="199.1" class="e">Auxin-responsiveness</text>
<rect x="2502.5" y="225.9" width="126" height="51.7" fill="url(#hC)" stroke="#8a8181" stroke-width="1.3"/>
<text x="2639" y="273.6">Ca<tspan font-size="32" dy="-26.5" dx="1.5" stroke-width="0.5">2</tspan><tspan font-size="39" dy="3.5" dx="1" stroke-width="0.3">+</tspan></text>
<text class="c" transform="translate(2754.5 272.9) scale(1 0.925)">响应</text>
<text x="2944.5" y="273.6">Ca<tspan font-size="32" dy="-26.5" dx="1.5" stroke-width="0.5">2</tspan><tspan font-size="39" dy="3.5" dx="1" stroke-width="0.3">+</tspan><tspan dy="23" dx="3" class="e">-responsiveness</tspan></text>
<rect x="2502.5" y="304.2" width="126" height="51.7" fill="url(#hD)" stroke="#8a8181" stroke-width="1.3"/>
<text class="c" transform="translate(2638.5 352.2) scale(1 0.925)">脱水诱导</text>
<text x="2958.8" y="352.9" class="e">Dehydration-inducibility</text>
<rect x="2502.5" y="382.5" width="126" height="51.7" fill="url(#hG)" stroke="#8a8181" stroke-width="1.3"/>
<text class="c" transform="translate(2638.5 429.8) scale(1 0.925)">赤霉素响应</text>
<text x="3020.6" y="430.5" class="e">Gibberellin-responsiveness</text>
<rect x="2503.3" y="460.8" width="126" height="51.7" fill="url(#hL)" stroke="#8a8181" stroke-width="1.3"/>
<text class="c" transform="translate(2638.5 511.7) scale(1 0.925)">光响应</text>
<text x="2896.1" y="512.4" class="e">Light-responsiveness</text>
<rect x="2502.5" y="539.1" width="126" height="51.7" fill="url(#hT)" stroke="#8a8181" stroke-width="1.3"/>
<text class="c" transform="translate(2638.5 591.0) scale(1 0.925)">低温响应</text>
<text x="2960.6" y="591.7" class="e">Low-temperature responsiveness</text>
<rect x="2502.5" y="617.4" width="126" height="51.7" fill="url(#hM)" stroke="#8a8181" stroke-width="1.3"/>
<text class="c" transform="translate(2638.5 667.9) scale(1 0.925)">茉莉酸甲酯响应</text>
<text x="3151.6" y="668.6" class="e">MeJA-responsiveness</text>
<rect x="2502.5" y="695.7" width="126" height="51.7" fill="url(#hS)" stroke="#8a8181" stroke-width="1.3"/>
<text class="c" transform="translate(2638.5 745.9) scale(1 0.925)">水杨酸响应</text>
<text x="3024.6" y="746.6" class="e">Salicylic acid responsiveness</text>
<rect x="2504.5" y="774.0" width="126" height="51.7" fill="url(#hR)" stroke="#8a8181" stroke-width="1.3"/>
<text class="c" transform="translate(2638.5 825.1) scale(1 0.925)">盐诱导</text>
<text x="2896.1" y="825.8" class="e">Salt-inducibility</text>
<rect x="2501.5" y="852.3" width="126" height="51.7" fill="url(#hP)" stroke="#8a8181" stroke-width="1.3"/>
<text class="c" transform="translate(2638.5 906.4) scale(1 0.925)">防御和胁迫响应</text>
<text x="2640.1" y="983.9" class="e">Defense and stress responsiveness</text>
<rect x="2504.5" y="1024.8" width="126" height="51.7" fill="url(#hW)" stroke="#8a8181" stroke-width="1.3"/>
<text class="c" transform="translate(2638.5 1079.1) scale(1 0.925)">损伤响应</text>
<text x="2959.8" y="1079.5" class="e">Wound-responsiveness</text>
</svg></body></html>
